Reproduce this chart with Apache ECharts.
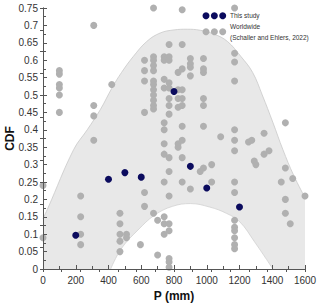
<!DOCTYPE html>
<html>
<head>
<meta charset="utf-8">
<script src="https://cdn.jsdelivr.net/npm/echarts@6/dist/echarts.min.js"></script>
<style>
html,body{margin:0;padding:0;background:#fff;}
#chart{width:320px;height:307px;}
</style>
</head>
<body>
<div id="chart"></div>
<script>
// ---- data ----
const xTicks = [0, 200, 400, 600, 800, 1000, 1200, 1400, 1600];
const yTicks = [0, 0.05, 0.1, 0.15, 0.2, 0.25, 0.3, 0.35, 0.4, 0.45, 0.5, 0.55, 0.6, 0.65, 0.7, 0.75];
const legendLabels = ['This study', 'Worldwide', '(Schaller and Ehlers, 2022)'];

// "This study"
const studyP   = [200, 400, 500, 600, 800, 900, 1000, 1200];
const studyCDF = [0.097, 0.258, 0.277, 0.264, 0.51, 0.295, 0.233, 0.178];

// "Worldwide (Schaller and Ehlers, 2022)" : [P, CDF]
const worldwide = [
  [0,0.24],[0,0.09],
  [100,0.57],[100,0.56],[100,0.53],[100,0.52],[100,0.50],[100,0.45],
  [230,0.21],[230,0.15],[230,0.10],[230,0.07],
  [310,0.70],[310,0.47],[310,0.44],[310,0.37],
  [420,0.53],
  [470,0.16],[470,0.13],[470,0.10],[470,0.08],[470,0.05],
  [510,0.10],[510,0.09],
  [595,0.07],
  [620,0.60],[620,0.57],[620,0.54],[620,0.45],[620,0.22],[620,0.18],
  [675,0.75],[675,0.61],[675,0.60],[675,0.585],[675,0.57],[675,0.54],[675,0.53],[675,0.515],[675,0.50],[675,0.485],[675,0.47],[675,0.46],[675,0.16],
  [700,0.14],[700,0.04],
  [740,0.61],[740,0.60],[740,0.545],[740,0.52],[740,0.42],[740,0.40],[740,0.36],[740,0.33],[740,0.25],[740,0.15],[740,0.13],[740,0.10],
  [770,0.645],[770,0.61],[770,0.60],[770,0.535],[770,0.52],[770,0.49],[770,0.47],[770,0.445],[770,0.32],[770,0.28],[770,0.21],[770,0.13],[770,0.11],[770,0.03],[770,0.02],[770,0.005],
  [825,0.565],[825,0.515],[825,0.49],[825,0.465],[825,0.36],[825,0.35],
  [850,0.745],[850,0.645],[850,0.575],[850,0.515],[850,0.49],[850,0.47],[850,0.41],[850,0.37],[850,0.32],[850,0.25],
  [900,0.605],[900,0.59],[900,0.58],[900,0.555],[900,0.23],
  [960,0.28],
  [980,0.605],[980,0.575],[980,0.565],[980,0.49],[980,0.47],[980,0.41],[980,0.29],
  [1030,0.30],[1030,0.25],
  [1085,0.38],
  [1170,0.75],[1170,0.62],[1170,0.595],[1170,0.54],[1170,0.40],[1170,0.37],[1170,0.34],[1170,0.25],[1170,0.22],[1170,0.14],[1170,0.12],[1170,0.11],[1170,0.09],[1170,0.07],[1170,0.058],
  [1255,0.365],[1275,0.37],[1290,0.31],[1300,0.30],[1350,0.39],[1350,0.33],[1380,0.34],
  [1480,0.42],[1480,0.29],[1480,0.20],[1480,0.16],
  [1455,0.25],[1525,0.26],[1510,0.13],[1600,0.21]
];

// envelope of the worldwide data (grey band)
const upperP   = [0, 30, 187, 270, 350, 421, 480, 552, 634, 715, 800, 880, 960, 1045, 1126, 1208, 1280, 1339, 1404, 1465, 1530, 1600];
const upperCDF = [0.145, 0.175, 0.343, 0.40, 0.458, 0.52, 0.565, 0.611, 0.654, 0.678, 0.687, 0.689, 0.686, 0.675, 0.654, 0.611, 0.565, 0.50, 0.421, 0.343, 0.27, 0.205];
const lowerP   = [413, 479, 580, 682, 790, 900, 1018, 1120, 1201, 1292, 1404];
const lowerCDF = [0, 0.059, 0.112, 0.155, 0.18, 0.188, 0.178, 0.16, 0.136, 0.078, 0];

// ---- chart ----
const zip = (a, b) => a.map((v, i) => [v, b[i]]);
const axisColor = '#555';
const navy = '#0b0b5e';
const grey = '#b0b0b0';
const font = 'Liberation Sans, Arial, sans-serif';

// legend swatches (three dots each) + labels
function swatch(cy, color) {
  return [0, 1, 2].map(i => ({
    type: 'circle', z: 100, silent: true,
    shape: {cx: 206 + i * 8.35, cy: cy, r: 3.5},
    style: {fill: color}
  }));
}
function label(y, text) {
  return {
    type: 'text', z: 100, silent: true, x: 230, y: y,
    style: {text: text, fontSize: 6.5, fontFamily: font, fill: '#333', verticalAlign: 'middle'}
  };
}
const legendGraphics = [].concat(
  swatch(15.7, navy), [label(15.7, legendLabels[0])],
  swatch(31.8, grey), [label(26.7, legendLabels[1]), label(37.2, legendLabels[2])]
);

const chart = echarts.init(document.getElementById('chart'), null, {renderer: 'svg'});
chart.setOption({
  animation: false,
  backgroundColor: '#fff',
  textStyle: {fontFamily: font},
  grid: {left: 43, top: 8, width: 262, height: 261, containLabel: false, outerBoundsMode: 'none'},
  graphic: {elements: legendGraphics},
  xAxis: [{
    type: 'value', position: 'bottom', z: 10,
    min: xTicks[0], max: xTicks[xTicks.length - 1], interval: xTicks[1] - xTicks[0],
    axisLine: {show: true, lineStyle: {color: axisColor, width: 1}},
    axisTick: {show: true, inside: true, length: 4, lineStyle: {color: axisColor}},
    minorTick: {show: true, splitNumber: 2, length: 3, lineStyle: {color: axisColor}},
    axisLabel: {fontSize: 10, color: '#333', margin: 6, formatter: v => String(v)},
    splitLine: {show: false},
    name: 'P (mm)', nameLocation: 'middle', nameGap: 21, nameMoveOverlap: false,
    nameTextStyle: {fontSize: 12, fontWeight: 'bold', color: '#111'}
  }, {
    type: 'value', position: 'top', z: 10,
    min: 0, max: 14, interval: 1,
    axisLine: {show: true, lineStyle: {color: axisColor, width: 1}},
    axisTick: {show: true, inside: true, length: 3, lineStyle: {color: axisColor}},
    axisLabel: {show: false}, splitLine: {show: false}
  }],
  yAxis: [{
    type: 'value', position: 'left', z: 10,
    min: yTicks[0], max: yTicks[yTicks.length - 1], interval: 0.05,
    axisLine: {show: true, lineStyle: {color: axisColor, width: 1}},
    axisTick: {show: true, inside: true, length: 4, lineStyle: {color: axisColor}},
    minorTick: {show: true, splitNumber: 2, length: 3, lineStyle: {color: axisColor}},
    axisLabel: {fontSize: 10, color: '#333', margin: 5, showMinLabel: true, showMaxLabel: true},
    splitLine: {show: false},
    name: 'CDF', nameLocation: 'middle', nameGap: 27.5, nameRotate: 90, nameMoveOverlap: false,
    nameTextStyle: {fontSize: 12, fontWeight: 'bold', color: '#111'}
  }, {
    type: 'value', position: 'right', z: 10,
    min: 0, max: 12, interval: 1,
    axisLine: {show: true, lineStyle: {color: axisColor, width: 1}},
    axisTick: {show: true, inside: true, length: 3, lineStyle: {color: axisColor}},
    axisLabel: {show: false}, splitLine: {show: false}
  }],
  series: [{
    name: 'upper', type: 'line', z: 0, silent: true, smooth: 0.4, symbol: 'none',
    data: zip(upperP, upperCDF),
    lineStyle: {color: '#c9c9c9', width: 0.8},
    areaStyle: {color: '#e8e8e8', opacity: 1, origin: 'start'}
  }, {
    name: 'lower', type: 'line', z: 0, silent: true, smooth: 0.4, symbol: 'none',
    data: zip(lowerP, lowerCDF),
    lineStyle: {color: '#d0d0d0', width: 0.8},
    areaStyle: {color: '#ffffff', opacity: 1, origin: 'start'}
  }, {
    name: 'Worldwide', type: 'scatter', z: 3, clip: false,
    symbolSize: 7, data: worldwide,
    itemStyle: {color: grey, opacity: 1}
  }, {
    name: 'This study', type: 'scatter', z: 4, clip: false,
    symbolSize: 7, data: zip(studyP, studyCDF),
    itemStyle: {color: navy, opacity: 1}
  }]
});
</script>
</body>
</html>
